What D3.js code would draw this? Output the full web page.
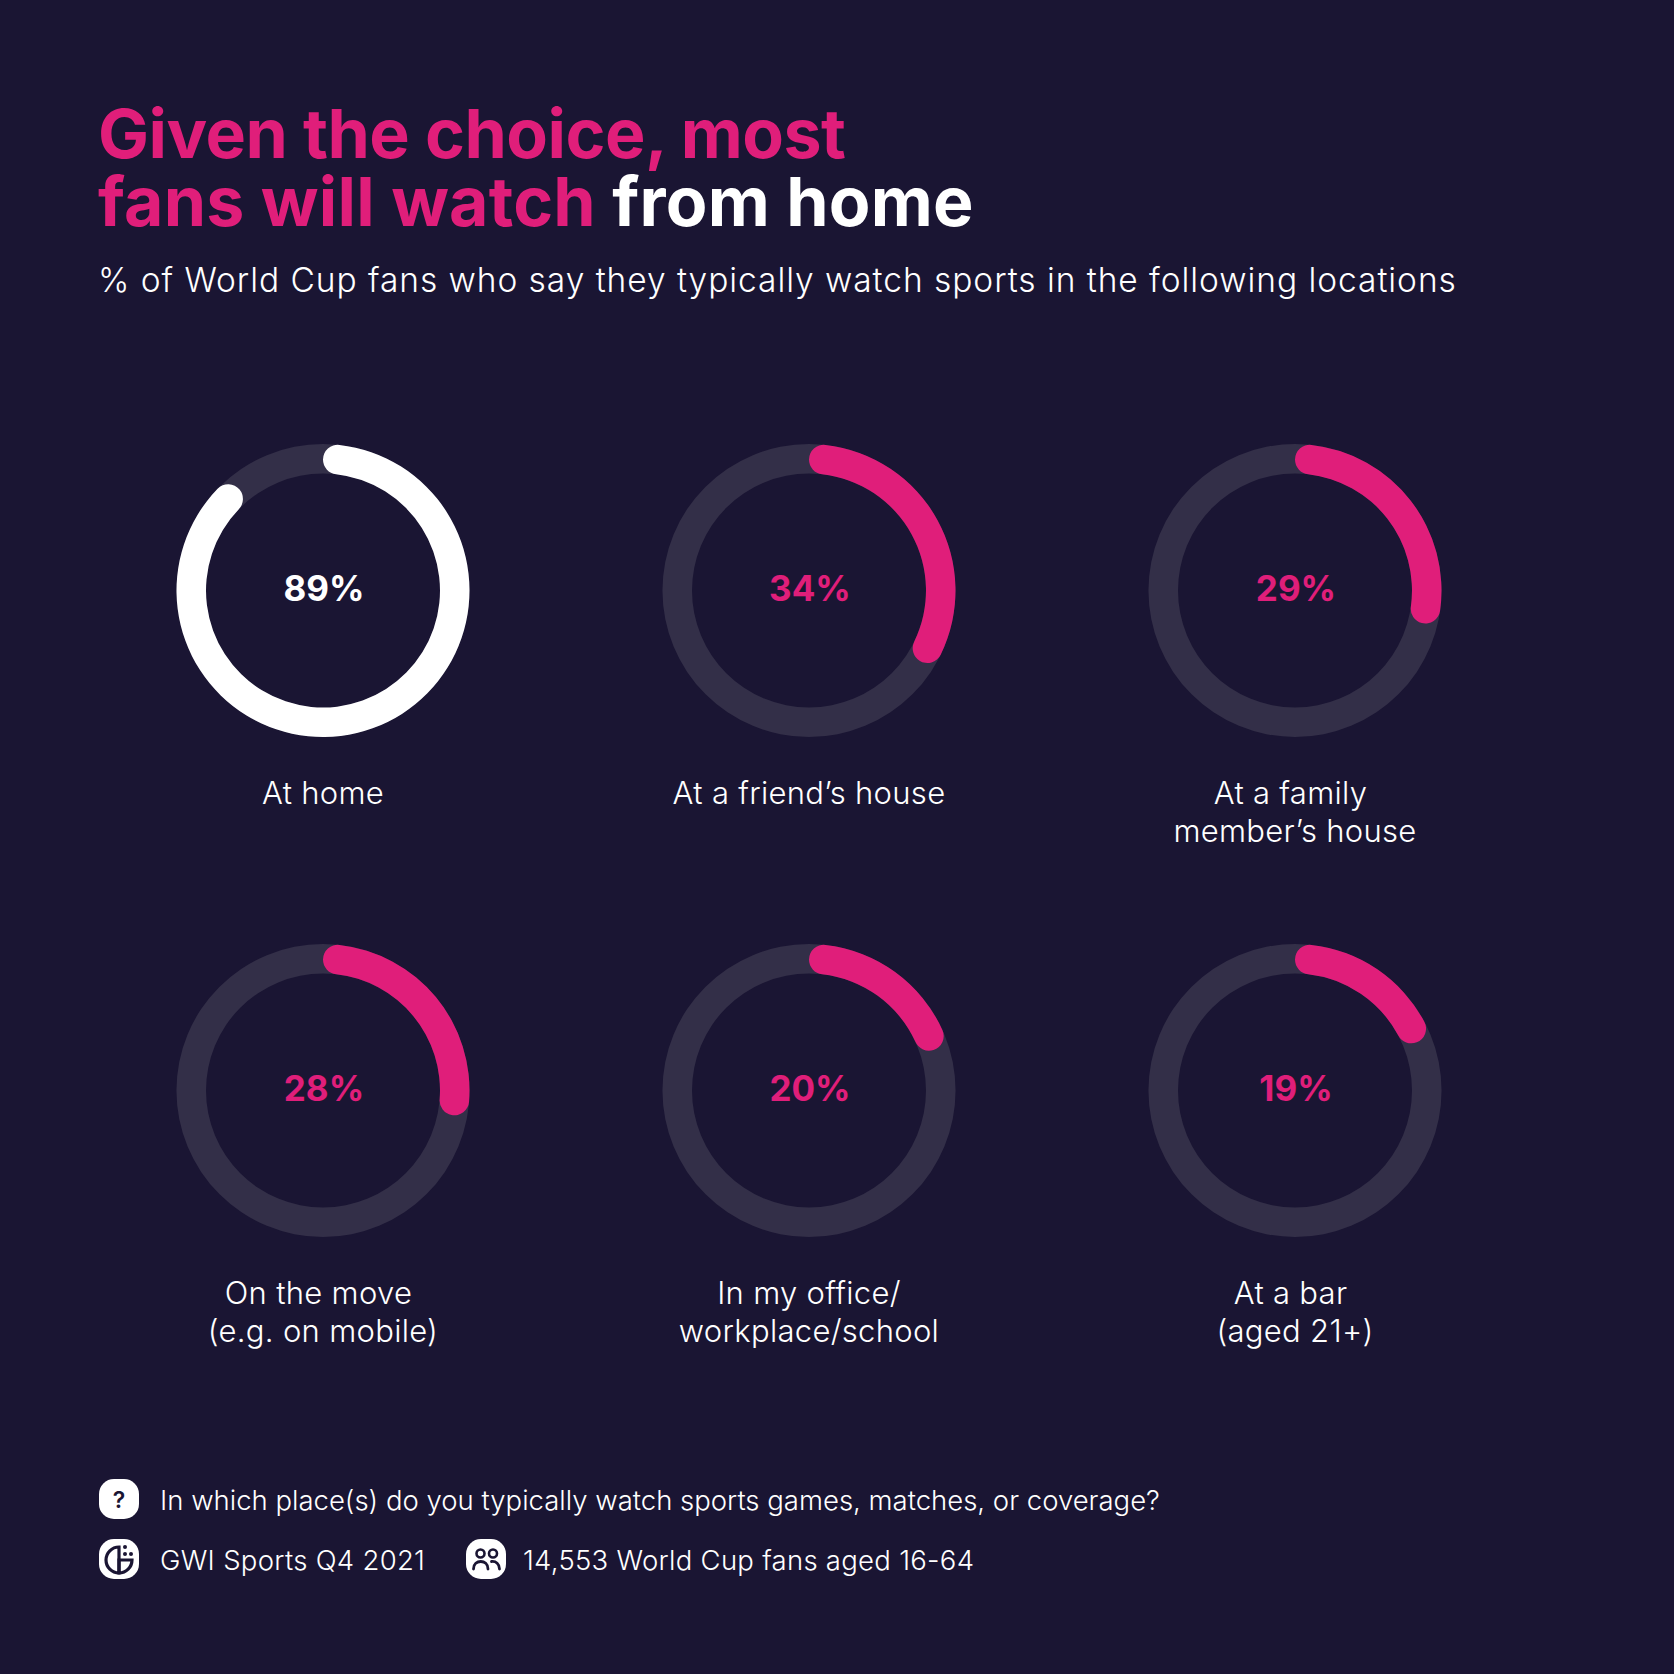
<!DOCTYPE html>
<html>
<head>
<meta charset="utf-8">
<script src="https://cdn.jsdelivr.net/npm/d3@7"></script>
<style>
  html, body { margin: 0; padding: 0; background: #1a1533; }
  svg { display: block; }
  text { font-family: Inter, "Noto Sans", sans-serif; }
</style>
</head>
<body>
<div id="chart"></div>
<script>
const categories = [
    ["At home"],
    ["At a friend’s house"],
    ["At a family\u00a0", "member’s house"],
    ["On the move\u00a0", "(e.g. on mobile)"],
    ["In my office/", "workplace/school"],
    ["At a bar\u00a0", "(aged 21+)"]
];
const values = [89, 34, 29, 28, 20, 19];
const columns = [0, 1, 2];
const rows = [0, 1];

const titleLine1 = "Given the choice, most";
const titleLine2a = "fans will watch ";
const titleLine2b = "from home";
const subtitle = "% of World Cup fans who say they typically watch sports in the following locations";
const question = "In which place(s) do you typically watch sports games, matches, or coverage?";
const source = "GWI Sports Q4 2021";
const sample = "14,553 World Cup fans aged 16-64";

const bg = "#1a1533";
const pink = "#e01e7a";
const track = "#332f48";
const white = "#ffffff";

const size = 1674;

const svg = d3.select("#chart")
    .append("svg")
    .attr("width", size)
    .attr("height", size);

svg.append("rect")
    .attr("width", size)
    .attr("height", size)
    .attr("fill", bg);

// Title block
const title = svg.append("g")
    .attr("font-size", 68)
    .attr("font-weight", 700);

title.append("text")
    .attr("x", 98)
    .attr("y", 158)
    .attr("letter-spacing", -0.5)
    .attr("fill", pink)
    .text(titleLine1);

const line2 = title.append("text")
    .attr("x", 98)
    .attr("y", 226)
    .attr("letter-spacing", 0.22);
line2.append("tspan").attr("fill", pink).text(titleLine2a);
line2.append("tspan").attr("fill", white).text(titleLine2b);

svg.append("text")
    .attr("x", 98)
    .attr("y", 292)
    .attr("fill", white)
    .attr("font-size", 33.5)
    .attr("font-weight", 300)
    .attr("letter-spacing", 0.95)
    .text(subtitle);

// Rings
const xScale = d3.scalePoint().domain(columns).range([323, 1295]);
const yScale = d3.scalePoint().domain(rows).range([590.5, 1090.5]);
const angle = d3.scaleLinear().domain([0, 100]).range([0, 2 * Math.PI]);

const outerR = 146.5;
const innerR = 117;

const arc = d3.arc()
    .innerRadius(innerR)
    .outerRadius(outerR);

const ringData = values.map((v, i) => ({
    value: v,
    label: categories[i],
    col: i % 3,
    row: Math.floor(i / 3),
    first: i === 0
}));

const rings = svg.selectAll("g.ring")
    .data(ringData)
    .join("g")
    .attr("class", "ring")
    .attr("transform", d => `translate(${xScale(d.col)},${yScale(d.row)})`);

rings.append("path")
    .attr("fill", track)
    .attr("d", arc({ startAngle: 0, endAngle: 2 * Math.PI }));

rings.append("path")
    .attr("fill", d => d.first ? white : pink)
    .attr("d", d => arc.cornerRadius((outerR - innerR) / 2)({ startAngle: 0, endAngle: angle(d.value) }));

rings.append("text")
    .attr("x", 1)
    .attr("y", 10)
    .attr("text-anchor", "middle")
    .attr("font-size", 35)
    .attr("font-weight", 700)
    .attr("fill", d => d.first ? white : pink)
    .text(d => d.value + "%");

rings.each(function (d) {
    d3.select(this).selectAll("text.label")
        .data(d.label)
        .join("text")
        .attr("class", "label")
        .attr("text-anchor", "middle")
        .attr("x", 0)
        .attr("y", (t, i) => 213.5 + i * 38)
        .attr("fill", white)
        .attr("font-size", 31)
        .attr("font-weight", 300)
        .attr("letter-spacing", 0.3)
        .text(t => t);
});

// Footer
const footer = svg.append("g");

function iconBox(x, y) {
    const g = footer.append("g").attr("transform", `translate(${x},${y})`);
    g.append("rect")
        .attr("width", 40)
        .attr("height", 40)
        .attr("rx", 15)
        .attr("fill", white);
    return g;
}

const footText = (x, y, t, spacing) => footer.append("text")
    .attr("x", x)
    .attr("y", y)
    .attr("fill", white)
    .attr("font-size", 27.5)
    .attr("font-weight", 300)
    .attr("letter-spacing", spacing)
    .text(t);

// question mark icon
iconBox(99, 1479).append("text")
    .attr("x", 20)
    .attr("y", 29)
    .attr("text-anchor", "middle")
    .attr("font-size", 23)
    .attr("font-weight", 600)
    .attr("fill", bg)
    .text("?");
footText(160, 1510, question, 0);

// source icon: split pie with dots
const pie = iconBox(99, 1539);
pie.append("path")
    .attr("d", "M20 8 A13 13 0 0 0 20 34 Z")
    .attr("fill", "none")
    .attr("stroke", bg)
    .attr("stroke-width", 3.2);
pie.append("path")
    .attr("d", "M20 21 H33 A13 13 0 0 1 20 34 Z")
    .attr("fill", "none")
    .attr("stroke", bg)
    .attr("stroke-width", 3.2);
[[26, 8], [26, 15], [32, 15]].forEach(p => {
    pie.append("circle").attr("cx", p[0]).attr("cy", p[1]).attr("r", 2).attr("fill", bg);
});
footText(160, 1570, source, 0.3);

// audience icon: two people
const people = iconBox(466, 1539);
[[14.5, 14.5], [27, 14.5]].forEach(p => {
    people.append("circle")
        .attr("cx", p[0]).attr("cy", p[1]).attr("r", 4)
        .attr("fill", "none").attr("stroke", bg).attr("stroke-width", 2.6);
});
people.append("path")
    .attr("d", "M7.5 30 C7.5 20 22 20 22 30 M25.5 22.5 C30 22 33.5 25 33.5 30")
    .attr("fill", "none")
    .attr("stroke", bg)
    .attr("stroke-width", 2.8)
    .attr("stroke-linecap", "round");
footText(523, 1570, sample, 0.28);
</script>
</body>
</html>
